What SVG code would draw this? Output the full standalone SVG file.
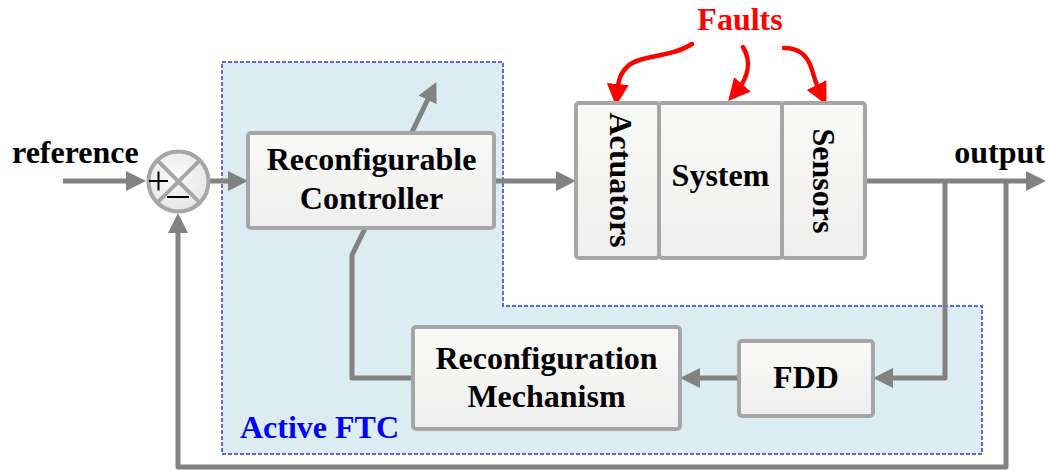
<svg xmlns="http://www.w3.org/2000/svg" width="1048" height="471" viewBox="0 0 1048 471">
<style>
.t{font-family:"Liberation Serif","Times New Roman",serif;font-weight:bold;font-size:32px;fill:#000;}
.c{text-anchor:middle;}
.box{fill:url(#bg);stroke:#a6a6a6;stroke-width:4;}
.ln{fill:none;stroke:#828282;stroke-width:5;stroke-linejoin:round;}
.la{fill:none;stroke:#828282;stroke-width:5;stroke-linejoin:round;marker-end:url(#ah);}
.rf{fill:none;stroke:#ff0000;stroke-width:4.5;stroke-linecap:round;marker-end:url(#rh);}
</style>
<defs>
<linearGradient id="bg" x1="0" y1="0" x2="0" y2="1">
<stop offset="0" stop-color="#f9f9f7"/>
<stop offset="1" stop-color="#efefef"/>
</linearGradient>
<radialGradient id="cg" cx="0.45" cy="0.4" r="0.6">
<stop offset="0" stop-color="#fbfbfb"/>
<stop offset="1" stop-color="#e6e6e6"/>
</radialGradient>
<marker id="ah" markerUnits="userSpaceOnUse" markerWidth="20" markerHeight="20" refX="10" refY="10" orient="auto" viewBox="0 0 20 20">
<path d="M0,0 L20,10 L0,20 Z" fill="#828282"/>
</marker>
<marker id="rh" markerUnits="userSpaceOnUse" markerWidth="22" markerHeight="22" refX="10" refY="11" orient="auto" viewBox="0 0 22 22">
<path d="M0,0 L22,11 L0,22 Z" fill="#ff0000"/>
</marker>
</defs>
<rect width="1048" height="471" fill="#ffffff"/>

<g id="active-ftc">
<path d="M222,62 L503,62 L503,306 L982,306 L982,454 L222,454 Z" fill="#dbedf3" stroke="#3333ff" stroke-width="1.5" stroke-dasharray="4,2"/>
<text class="t" x="240" y="438" style="fill:#0000ff">Active FTC</text>
</g>

<g id="connectors">
<path class="la" d="M63,181 L136,181"/>
<path class="la" d="M210,181 L238,181"/>
<path class="la" d="M494,181 L566,181"/>
<path class="la" d="M865,181 L1036,181"/>
<path class="la" d="M945,181 L945,378 L883,378"/>
<path class="la" d="M739,378 L690,378"/>
<path class="la" d="M413,378 L352,378 L352,255 L432,91"/>
<path class="la" d="M1006,181 L1006,467 L178,467 L178,223"/>
<path class="rf" d="M692,44 C670,58 640,55 628,66 C620,73 618,82 617,94"/>
<path class="rf" d="M743,47 C752,62 748,78 736,92"/>
<path class="rf" d="M784,48 C800,48 808,56 812,70 C814,78 817,86 821,94"/>
</g>

<g id="sum">
<circle cx="178.5" cy="181.5" r="30" fill="url(#cg)" stroke="#a6a6a6" stroke-width="4"/>
<path d="M157.3,160.3 L199.7,202.7 M199.7,160.3 L157.3,202.7" stroke="#a6a6a6" stroke-width="4"/>
<path d="M149,181 L168,181 M158.5,171.5 L158.5,190.5 M167,197 L189,197" stroke="#000" stroke-width="2"/>
</g>

<text class="t" x="12" y="163">reference</text>
<text class="t" x="1045" y="163" text-anchor="end">output</text>

<g id="controller">
<rect class="box" x="248" y="133" width="246" height="95" rx="3"/>
<text class="t c" x="371.5" y="170">Reconfigurable</text>
<text class="t c" x="371.5" y="209">Controller</text>
</g>

<g id="actuators">
<rect class="box" x="576" y="103" width="83" height="155" rx="3"/>
<text class="t c" transform="translate(610,180) rotate(90)">Actuators</text>
</g>
<g id="system">
<rect class="box" x="659" y="103" width="123" height="155" rx="3"/>
<text class="t c" x="720.5" y="186">System</text>
</g>
<g id="sensors">
<rect class="box" x="782" y="103" width="83" height="155" rx="3"/>
<text class="t c" transform="translate(813,181) rotate(90)">Sensors</text>
</g>

<g id="faults">
<text class="t c" x="740" y="30" style="fill:#ff0000">Faults</text>
</g>

<g id="mechanism">
<rect class="box" x="413" y="327" width="267" height="102" rx="3"/>
<text class="t c" x="546.5" y="369">Reconfiguration</text>
<text class="t c" x="546.5" y="407">Mechanism</text>
</g>

<g id="fdd">
<rect class="box" x="739" y="341" width="134" height="75" rx="3"/>
<text class="t c" x="806" y="388">FDD</text>
</g>
</svg>
